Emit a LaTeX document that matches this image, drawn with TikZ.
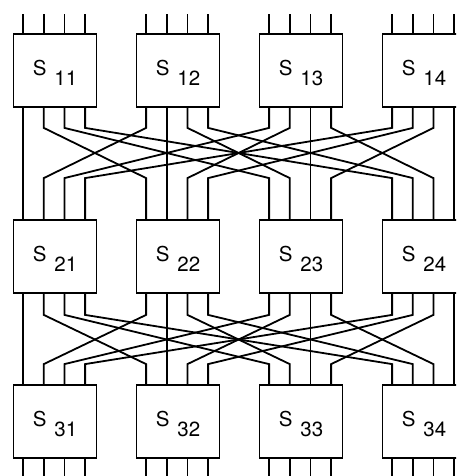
\documentclass[tikz,border=0pt]{standalone}
\usepackage{fontspec}
\setmainfont{TeX Gyre Heros}
\usetikzlibrary{calc}
\newcommand{\swname}[1]{S\hspace{8pt}\raisebox{-10pt}{#1}}

\begin{document}
\begin{tikzpicture}[x=1pt,y=-1pt,
  switch/.style={draw,line width=1.8pt,minimum width=83pt,minimum height=73pt,
    inner sep=0pt,text height=20pt,text depth=10pt,font=\fontsize{20.5}{24}\selectfont},
  wire/.style={line width=1.8pt},
]
  \clip (0,0) rectangle (456,476);
  \node[switch] (s11) at (55,70.5) {\swname{11}};
  \node[switch] (s12) at (178,70.5) {\swname{12}};
  \node[switch] (s13) at (301,70.5) {\swname{13}};
  \node[switch] (s14) at (424,70.5) {\swname{14}};
  \node[switch] (s21) at (55,256.5) {\swname{21}};
  \node[switch] (s22) at (178,256.5) {\swname{22}};
  \node[switch] (s23) at (301,256.5) {\swname{23}};
  \node[switch] (s24) at (424,256.5) {\swname{24}};
  \node[switch] (s31) at (55,421.5) {\swname{31}};
  \node[switch] (s32) at (178,421.5) {\swname{32}};
  \node[switch] (s33) at (301,421.5) {\swname{33}};
  \node[switch] (s34) at (424,421.5) {\swname{34}};
  \foreach \i in {1,...,4}
  \foreach \j in {1,...,4} {
    \pgfmathsetmacro{\xin}{10.5+20.67*(\i-1)}
    \pgfmathsetmacro{\xout}{10.5+20.67*(\j-1)}
    % network inputs and outputs
    \draw[wire] ($(s1\i.north west)+(\xout,0)$) -- ++(0,-19);
    \draw[wire] ($(s3\i.south west)+(\xout,0)$) -- ++(0,20);
    % stage 1 to stage 2
    \draw[wire] ($(s1\i.south west)+(\xout,0)$) -- ++(0,20)
      -- ($(s2\j.north west)+(\xin,-41)$) -- ($(s2\j.north west)+(\xin,0)$);
    % stage 2 to stage 3
    \draw[wire] ($(s2\i.south west)+(\xout,0)$) -- ++(0,21)
      -- ($(s3\j.north west)+(\xin,-20)$) -- ($(s3\j.north west)+(\xin,0)$);
  }
\end{tikzpicture}
\end{document}
